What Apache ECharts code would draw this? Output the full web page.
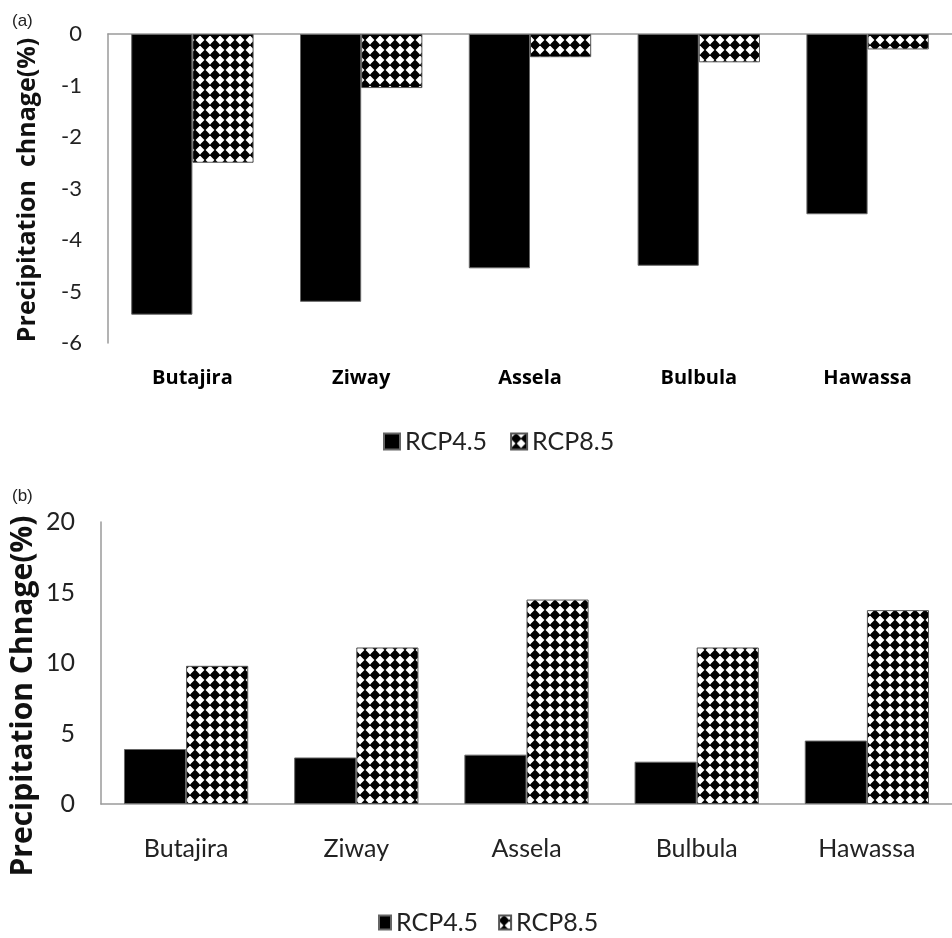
<!DOCTYPE html>
<html><head><meta charset="utf-8">
<script src="https://cdn.jsdelivr.net/npm/echarts@6/dist/echarts.min.js"></script>
<style>html,body{margin:0;padding:0;background:#fff}#c{width:952px;height:938px}</style>
</head><body><div id="c"></div>
<script>
const categories = ['Butajira', 'Ziway', 'Assela', 'Bulbula', 'Hawassa'];
const seriesNames = ['RCP4.5', 'RCP8.5'];
// panel (a)
const changeA_rcp45 = [-5.45, -5.2, -4.55, -4.5, -3.5];
const changeA_rcp85 = [-2.5, -1.05, -0.45, -0.55, -0.3];
// panel (b)
const changeB_rcp45 = [3.9, 3.3, 3.5, 3.0, 4.5];
const changeB_rcp85 = [9.8, 11.1, 14.5, 11.1, 13.75];
const titleA = 'Precipitation  chnage(%)';
const titleB = 'Precipitation Chnage(%)';

function makePattern() {
  const c = document.createElement('canvas');
  c.width = 10; c.height = 10;
  const g = c.getContext('2d');
  g.fillStyle = '#fff'; g.fillRect(0, 0, 10, 10);
  g.fillStyle = '#000';
  g.beginPath();
  g.moveTo(5, -0.6); g.lineTo(10.6, 5); g.lineTo(5, 10.6); g.lineTo(-0.6, 5);
  g.closePath(); g.fill();
  return c;
}
const pattern = { image: makePattern(), repeat: 'repeat' };

const FONT = 'Lato, "Open Sans", sans-serif';
const FONT_B = '"Open Sans", Lato, sans-serif';
const axisGray = '#9a9a9a';
const solid = { color: '#000', borderColor: '#666', borderWidth: 1 };
const hatched = { color: pattern, borderColor: '#555', borderWidth: 1 };

const chart = echarts.init(document.getElementById('c'));
chart.setOption({
  animation: false,
  backgroundColor: '#fff',
  grid: [
    { left: 108, top: 34, width: 855, height: 309 },
    { left: 101, top: 522, width: 867, height: 282 }
  ],
  xAxis: [
    { gridIndex: 0, type: 'category', data: categories, position: 'bottom',
      axisLine: { show: false, onZero: false }, axisTick: { show: false },
      axisLabel: { fontFamily: FONT_B, fontWeight: 'bold', fontSize: 20, color: '#000', margin: 25 } },
    { gridIndex: 0, type: 'category', data: categories, position: 'top',
      axisLine: { show: true, onZero: false, lineStyle: { color: axisGray, width: 1.5 } },
      axisTick: { show: false }, axisLabel: { show: false } },
    { gridIndex: 1, type: 'category', data: categories, position: 'bottom',
      axisLine: { show: true, lineStyle: { color: axisGray, width: 1.5 } },
      axisTick: { show: false },
      axisLabel: { fontFamily: FONT, fontSize: 25, color: '#222', margin: 32 } }
  ],
  yAxis: [
    { gridIndex: 0, type: 'value', min: -6, max: 0, interval: 1,
      axisLine: { show: true, lineStyle: { color: axisGray, width: 1.5 } },
      axisTick: { show: false }, splitLine: { show: false },
      axisLabel: { fontFamily: FONT, fontSize: 22, color: '#222', margin: 26 } },
    { gridIndex: 1, type: 'value', min: 0, max: 20, interval: 5,
      axisLine: { show: true, lineStyle: { color: axisGray, width: 1.5 } },
      axisTick: { show: false }, splitLine: { show: false },
      axisLabel: { fontFamily: FONT, fontSize: 25, color: '#222', margin: 26 } }
  ],
  legend: [
    { data: seriesNames, left: 378, top: 424, icon: 'rect', itemWidth: 16, itemHeight: 16, itemGap: 23,
      textStyle: { fontFamily: FONT, fontSize: 25, color: '#222' } },
    { data: seriesNames, left: 373, top: 905, icon: 'rect', itemWidth: 12, itemHeight: 14, itemGap: 20,
      textStyle: { fontFamily: FONT, fontSize: 25, color: '#222' } }
  ],
  series: [
    { name: seriesNames[0], type: 'bar', xAxisIndex: 0, yAxisIndex: 0, data: changeA_rcp45,
      itemStyle: solid, barGap: '0%', barCategoryGap: '27.5%' },
    { name: seriesNames[1], type: 'bar', xAxisIndex: 0, yAxisIndex: 0, data: changeA_rcp85,
      itemStyle: hatched, barGap: '0%', barCategoryGap: '27.5%' },
    { name: seriesNames[0], type: 'bar', xAxisIndex: 2, yAxisIndex: 1, data: changeB_rcp45,
      itemStyle: solid, barGap: '0%', barCategoryGap: '27%' },
    { name: seriesNames[1], type: 'bar', xAxisIndex: 2, yAxisIndex: 1, data: changeB_rcp85,
      itemStyle: hatched, barGap: '0%', barCategoryGap: '27%' }
  ],
  graphic: [
    { type: 'text', x: 12, y: 13, style: { text: '(a)', font: '17px "Liberation Sans", Arial', fill: '#222' } },
    { type: 'text', x: 12, y: 488, style: { text: '(b)', font: '17px "Liberation Sans", Arial', fill: '#222' } },
    { type: 'text', x: 28, y: 190, rotation: Math.PI / 2,
      style: { text: titleA, font: 'bold 25px ' + FONT_B, align: 'center', verticalAlign: 'middle', fill: '#111' } },
    { type: 'text', x: 23, y: 696, rotation: Math.PI / 2,
      style: { text: titleB, font: 'bold 30px ' + FONT_B, align: 'center', verticalAlign: 'middle', fill: '#111' } }
  ]
});
</script></body></html>
